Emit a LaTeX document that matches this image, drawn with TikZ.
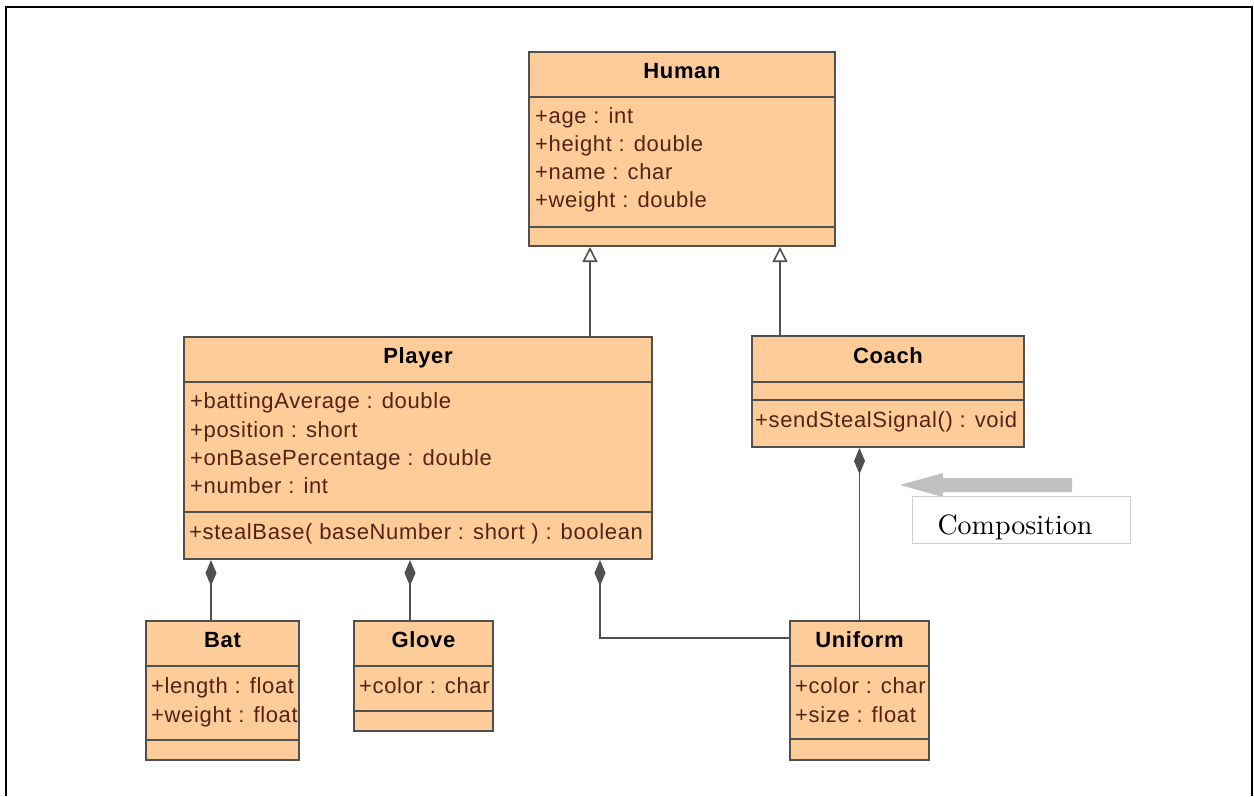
\documentclass[tikz,border=0pt]{standalone}
\usepackage{fontspec}
\newfontfamily\umlfont{Liberation Sans}[LetterSpace=3]
\newfontfamily\compfont{lmroman10-regular.otf}
\usetikzlibrary{arrows.meta,calc}
\definecolor{peach}{RGB}{253,204,153}
\definecolor{umlline}{RGB}{80,80,80}
\definecolor{attr}{RGB}{85,35,20}
\definecolor{hint}{RGB}{192,192,192}
\definecolor{hintbox}{RGB}{205,205,205}
\tikzset{
 classbox/.style={draw=umlline, line width=2pt, fill=peach, inner sep=0pt, anchor=north west},
 sep/.style={draw=umlline, line width=1.6pt},
 title/.style={font=\umlfont\bfseries\fontsize{22}{26}\selectfont, text=black, anchor=base, inner sep=0pt},
 member/.style={font=\umlfont\fontsize{22}{26}\selectfont, text=attr, anchor=base west, inner sep=0pt},
 gen/.style={draw=umlline, line width=1.6pt, -{Triangle[open,length=15pt,width=15pt,fill=white]}},
 comp/.style={draw=umlline, line width=1.6pt, {Diamond[length=26pt,width=11pt,fill=umlline]}-},
}
\begin{document}
\begin{tikzpicture}[x=1pt,y=-1pt]
\useasboundingbox (0,0) rectangle (1254,796);
\draw[line width=2.5pt] (6,796) -- (6,7) -- (1252,7) -- (1252,796);

% Human
\node[classbox, minimum width=306pt, minimum height=194pt] (human) at (528,51) {};
\draw[sep] ($(human.north west)+(0,46)$) -- ($(human.north east)+(0,46)$);
\draw[sep] ($(human.north west)+(0,176)$) -- ($(human.north east)+(0,176)$);
\node[title] (humant) at ($(human.north)+(0,27)$) {Human};
\node[member] (ha1) at ($(human.north west)+(7,72)$) {+age : int};
\node[member] (ha2) at ($(human.north west)+(7,100)$) {+height : double};
\node[member] (ha3) at ($(human.north west)+(7,128)$) {+name : char};
\node[member] (ha4) at ($(human.north west)+(7,156)$) {+weight : double};

% Player
\node[classbox, minimum width=468pt, minimum height=222pt] (player) at (183,336) {};
\draw[sep] ($(player.north west)+(0,46)$) -- ($(player.north east)+(0,46)$);
\draw[sep] ($(player.north west)+(0,176)$) -- ($(player.north east)+(0,176)$);
\node[title] (playert) at ($(player.north)+(0,27)$) {Player};
\node[member] (pa1) at ($(player.north west)+(7,72)$) {+battingAverage : double};
\node[member] (pa2) at ($(player.north west)+(7,101)$) {+position : short};
\node[member] (pa3) at ($(player.north west)+(7,129)$) {+onBasePercentage : double};
\node[member] (pa4) at ($(player.north west)+(7,157)$) {+number : int};
\node[member] (pm1) at ($(player.north west)+(6,203)$) {+stealBase( baseNumber : short ) : boolean};

% Coach
\node[classbox, minimum width=272pt, minimum height=111pt] (coach) at (751,335) {};
\draw[sep] ($(coach.north west)+(0,47)$) -- ($(coach.north east)+(0,47)$);
\draw[sep] ($(coach.north west)+(0,65)$) -- ($(coach.north east)+(0,65)$);
\node[title] (coacht) at ($(coach.north)+(0,28)$) {Coach};
\node[member] (cm1) at ($(coach.north west)+(4,92)$) {+sendStealSignal() : void};

% Bat
\node[classbox, minimum width=153pt, minimum height=139pt] (bat) at (145,620) {};
\draw[sep] ($(bat.north west)+(0,46)$) -- ($(bat.north east)+(0,46)$);
\draw[sep] ($(bat.north west)+(0,120)$) -- ($(bat.north east)+(0,120)$);
\node[title] (batt) at ($(bat.north)+(0,27)$) {Bat};
\node[member] (ba1) at ($(bat.north west)+(6,73)$) {+length : float};
\node[member] (ba2) at ($(bat.north west)+(6,102)$) {+weight : float};

% Glove
\node[classbox, minimum width=139pt, minimum height=110pt] (glove) at (353,620) {};
\draw[sep] ($(glove.north west)+(0,46)$) -- ($(glove.north east)+(0,46)$);
\draw[sep] ($(glove.north west)+(0,91)$) -- ($(glove.north east)+(0,91)$);
\node[title] (glovet) at ($(glove.north)+(0,27)$) {Glove};
\node[member] (ga1) at ($(glove.north west)+(6,73)$) {+color : char};

% Uniform
\node[classbox, minimum width=139pt, minimum height=139pt] (uniform) at (789,620) {};
\draw[sep] ($(uniform.north west)+(0,46)$) -- ($(uniform.north east)+(0,46)$);
\draw[sep] ($(uniform.north west)+(0,119)$) -- ($(uniform.north east)+(0,119)$);
\node[title] (uniformt) at ($(uniform.north)+(0,27)$) {Uniform};
\node[member] (ua1) at ($(uniform.north west)+(6,73)$) {+color : char};
\node[member] (ua2) at ($(uniform.north west)+(6,102)$) {+size : float};

% generalization
\coordinate (h1) at ($(human.south west)+(62,0)$);
\coordinate (h2) at ($(human.south west)+(252,0)$);
\draw[gen] (player.north -| h1) -- (h1);
\draw[gen] (coach.north -| h2) -- (h2);

% composition
\coordinate (p1) at ($(player.south west)+(28,0)$);
\coordinate (p2) at ($(player.south west)+(227,0)$);
\coordinate (p3) at ($(player.south west)+(417,0)$);
\draw[comp] (p1) -- (bat.north -| p1);
\draw[comp] (p2) -- (glove.north -| p2);
\draw[comp] (p3) |- ($(uniform.north west)+(0,18)$);
\draw[comp] (coach.south -| uniform.north) -- (uniform.north);

% hint arrow and label
\fill[hint] (1072,478) -- (943,478) -- (943,473) -- (900,485) -- (943,497) -- (943,492) -- (1072,492) -- cycle;
\node[draw=hintbox, line width=1pt, minimum width=218pt, minimum height=47pt, anchor=north west, inner sep=0pt] (compbox) at (912,496) {};
\node[font=\compfont\fontsize{28}{32}\selectfont, anchor=base, inner sep=0pt] (complabel) at (1015,534) {Composition};
\end{tikzpicture}
\end{document}
